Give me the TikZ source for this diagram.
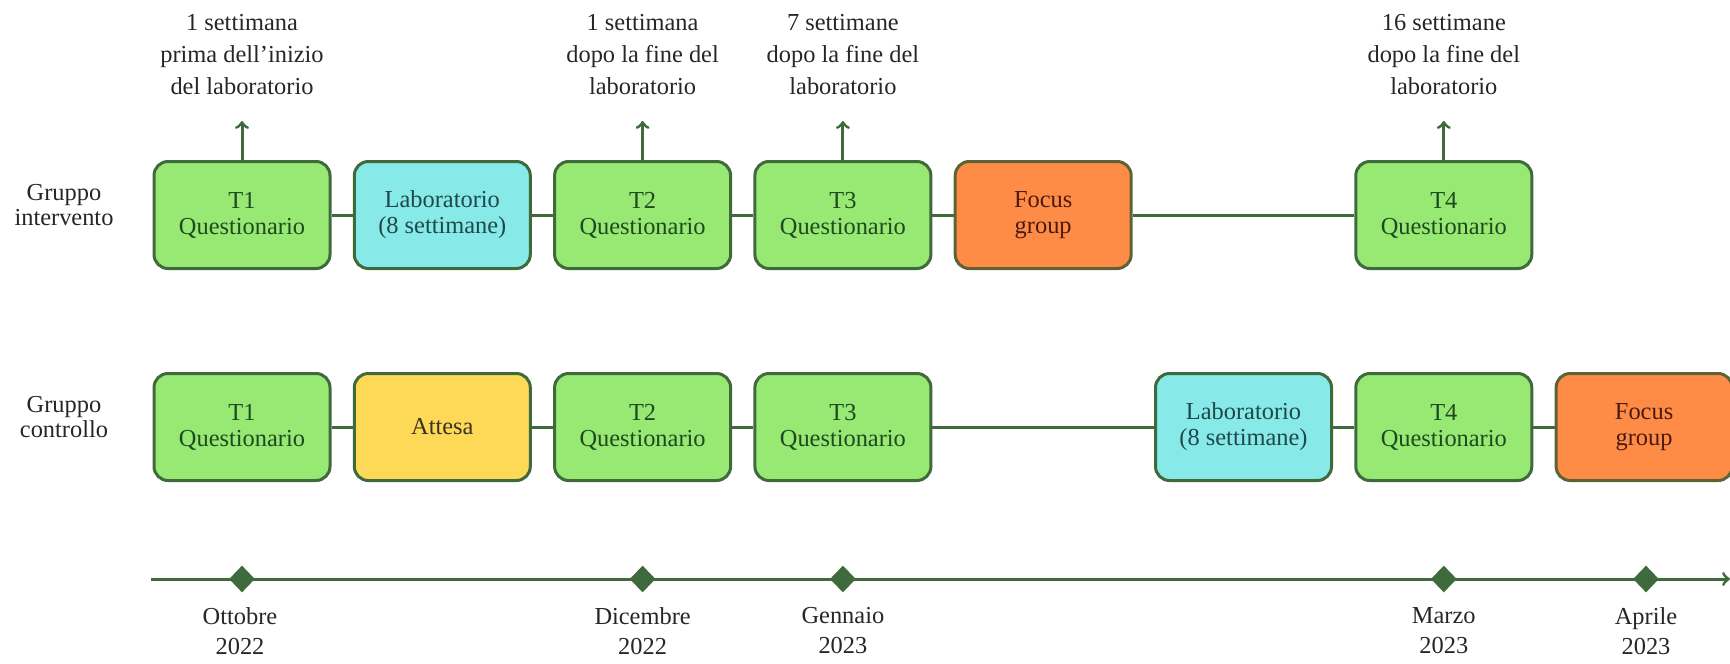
\documentclass[tikz,border=0pt]{standalone}
\usepackage{fontspec}
\setmainfont{Liberation Serif}
\usetikzlibrary{shapes.geometric}

\definecolor{boxline}{HTML}{3F6A3C}
\definecolor{focusline}{HTML}{5C6436}
\definecolor{qfill}{HTML}{98E874}
\definecolor{qtext}{HTML}{1E4A1E}
\definecolor{labfill}{HTML}{87E9E8}
\definecolor{labtext}{HTML}{1F4848}
\definecolor{waitfill}{HTML}{FDD957}
\definecolor{waittext}{HTML}{3A3222}
\definecolor{focusfill}{HTML}{FE8C46}
\definecolor{focustext}{HTML}{4A1A10}
\definecolor{labeltext}{HTML}{262626}

\begin{document}
\begin{tikzpicture}[x=0.5pt,y=-0.5pt,
  every node/.style={font=\fontsize{12.2}{13}\selectfont},
  phase/.style={draw=boxline,line width=1.5pt,rounded corners=7pt,minimum width=88pt,minimum height=53.5pt,align=center,inner sep=0pt},
  quest/.style={phase,fill=qfill,text=qtext},
  lab/.style={phase,fill=labfill,text=labtext},
  wait/.style={phase,fill=waitfill,text=waittext},
  focus/.style={phase,draw=focusline,fill=focusfill,text=focustext},
  note/.style={align=center,text=labeltext,font=\fontsize{12.2}{16}\selectfont},
  datelabel/.style={align=center,text=labeltext,font=\fontsize{12.2}{15}\selectfont},
  grouplabel/.style={align=center,text=labeltext,font=\fontsize{12.2}{12.8}\selectfont},
  link/.style={draw=boxline,line width=1.5pt},
  milestone/.style={diamond,fill=boxline,inner sep=0pt,minimum width=13pt,minimum height=13.5pt}]

\path[use as bounding box,clip] (0,0) rectangle (1730,664);

% gruppo intervento
\node[grouplabel] (gi) at (64,205) {Gruppo\\intervento};
\node[quest] (it1) at (242,215) {T1\\Questionario};
\node[lab] (ilab) at (442.3,215) {Laboratorio\\(8 settimane)};
\node[quest] (it2) at (642.6,215) {T2\\Questionario};
\node[quest] (it3) at (842.9,215) {T3\\Questionario};
\node[focus] (ifg) at (1043.2,215) {Focus\\group};
\node[quest] (it4) at (1443.8,215) {T4\\Questionario};

\node[note] (n1) at (242,55) {1 settimana\\prima dell'inizio\\del laboratorio};
\node[note] (n2) at (642.6,55) {1 settimana\\dopo la fine del\\laboratorio};
\node[note] (n3) at (842.9,55) {7 settimane\\dopo la fine del\\laboratorio};
\node[note] (n4) at (1443.8,55) {16 settimane\\dopo la fine del\\laboratorio};

\coordinate (a1) at (242,121);
\coordinate (a2) at (642.6,121);
\coordinate (a3) at (842.9,121);
\coordinate (a4) at (1443.8,121);

\draw[link] (it1) -- (ilab);
\draw[link] (ilab) -- (it2);
\draw[link] (it2) -- (it3);
\draw[link] (it3) -- (ifg);
\draw[link] (ifg) -- (it4);

\draw[link,->] (it1.north) -- (a1);
\draw[link,->] (it2.north) -- (a2);
\draw[link,->] (it3.north) -- (a3);
\draw[link,->] (it4.north) -- (a4);

% gruppo controllo
\node[grouplabel] (gc) at (64,417) {Gruppo\\controllo};
\node[quest] (ct1) at (242,427) {T1\\Questionario};
\node[wait] (cwait) at (442.3,427) {Attesa};
\node[quest] (ct2) at (642.6,427) {T2\\Questionario};
\node[quest] (ct3) at (842.9,427) {T3\\Questionario};
\node[lab] (clab) at (1243.5,427) {Laboratorio\\(8 settimane)};
\node[quest] (ct4) at (1443.8,427) {T4\\Questionario};
\node[focus] (cfg) at (1644.1,427) {Focus\\group};

\draw[link] (ct1) -- (cwait);
\draw[link] (cwait) -- (ct2);
\draw[link] (ct2) -- (ct3);
\draw[link] (ct3) -- (clab);
\draw[link] (clab) -- (ct4);
\draw[link] (ct4) -- (cfg);

% timeline
\coordinate (tstart) at (151,579);
\coordinate (tend) at (1730,579);
\draw[link,->] (tstart) -- (tend);

\node[milestone] (m1) at (242,579) {};
\node[milestone] (m2) at (642.6,579) {};
\node[milestone] (m3) at (842.9,579) {};
\node[milestone] (m4) at (1443.8,579) {};
\node[milestone] (m5) at (1646,579) {};

\node[datelabel] (d1) at (240,631) {Ottobre\\2022};
\node[datelabel] (d2) at (642.6,631) {Dicembre\\2022};
\node[datelabel] (d3) at (842.9,631) {Gennaio\\2023};
\node[datelabel] (d4) at (1443.8,631) {Marzo\\2023};
\node[datelabel] (d5) at (1646,631) {Aprile\\2023};

\end{tikzpicture}
\end{document}
